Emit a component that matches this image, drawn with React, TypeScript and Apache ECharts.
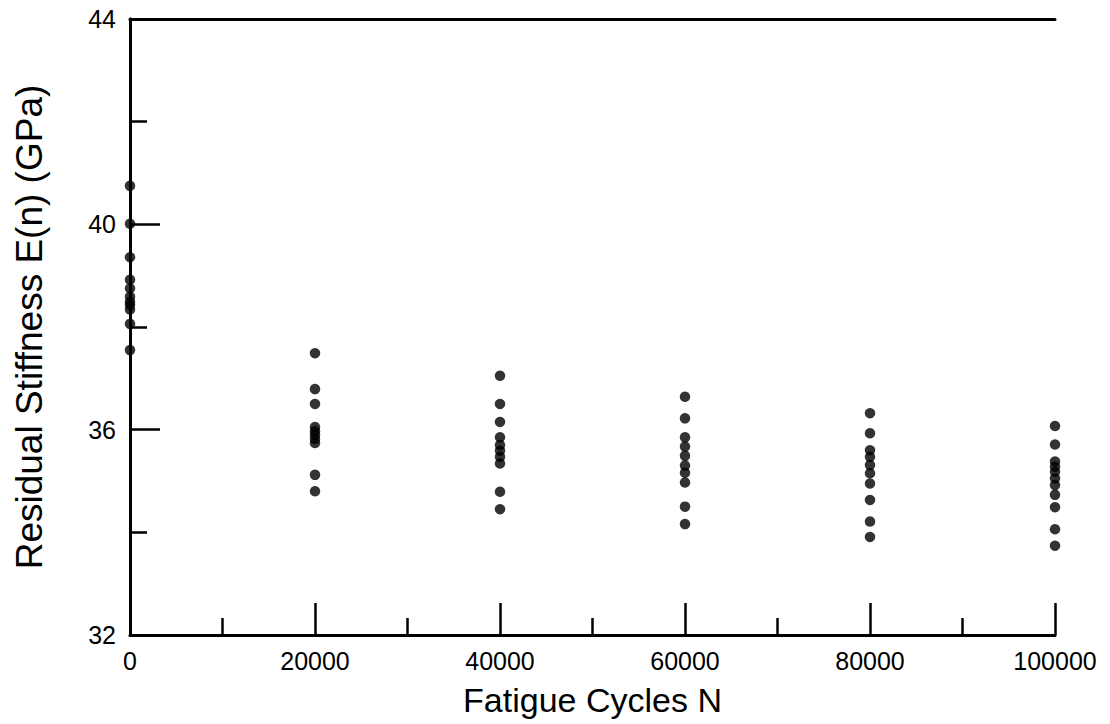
import React, { useEffect, useRef } from "react";
import * as echarts from "echarts";

const cycles = [0, 20000, 40000, 60000, 80000, 100000];
const stiff0 = [40.75, 40.01, 39.36, 38.92, 38.75, 38.59, 38.49, 38.43, 38.34, 38.06, 37.55];
const stiff20k = [37.49, 36.79, 36.5, 36.05, 35.97, 35.9, 35.82, 35.74, 35.12, 34.8];
const stiff40k = [37.05, 36.5, 36.15, 35.85, 35.7, 35.59, 35.47, 35.34, 34.79, 34.45];
const stiff60k = [36.64, 36.22, 35.85, 35.67, 35.49, 35.3, 35.16, 34.97, 34.5, 34.16];
const stiff80k = [36.32, 35.93, 35.6, 35.47, 35.31, 35.15, 34.95, 34.63, 34.21, 33.91];
const stiff100k = [36.07, 35.71, 35.38, 35.28, 35.18, 35.05, 34.92, 34.73, 34.49, 34.06, 33.74];
const groups = [stiff0, stiff20k, stiff40k, stiff60k, stiff80k, stiff100k];

const FONT = "'Liberation Sans', Arial, sans-serif";

export default function App() {
  const ref = useRef<HTMLDivElement>(null);
  useEffect(() => {
    if (!ref.current) return;
    const chart = echarts.init(ref.current, null, { renderer: "svg" });
    const data: number[][] = [];
    groups.forEach((g, i) => g.forEach((v) => data.push([cycles[i], v])));
    const lineStyle = { color: "#000", width: 3 };
    chart.setOption({
      animation: false,
      backgroundColor: "#fff",
      grid: { left: 130, right: 55, top: 19, bottom: 89 },
      xAxis: [
        {
          type: "value",
          min: 0,
          max: 100000,
          interval: 20000,
          axisLine: { show: true, lineStyle },
          axisTick: { show: true, inside: true, length: 32, lineStyle: { color: "#000", width: 2.5 } },
          minorTick: { show: true, splitNumber: 2, length: 17, lineStyle: { color: "#000", width: 2.5 } },
          splitLine: { show: false },
          axisLabel: {
            color: "#000",
            fontSize: 25,
            fontFamily: FONT,
            margin: 13,
            formatter: (v: number) => String(v),
          },
          name: "Fatigue Cycles N",
          nameLocation: "middle",
          nameGap: 48,
          nameTextStyle: { color: "#000", fontSize: 34, fontFamily: FONT },
        },
        {
          type: "value",
          position: "top",
          min: 0,
          max: 100000,
          axisLine: { show: true, lineStyle },
          axisTick: { show: false },
          axisLabel: { show: false },
          splitLine: { show: false },
        },
      ],
      yAxis: [
        {
          type: "value",
          min: 32,
          max: 44,
          interval: 4,
          axisLine: { show: true, lineStyle },
          axisTick: { show: true, inside: true, length: 30, lineStyle: { color: "#000", width: 2.5 } },
          minorTick: { show: true, splitNumber: 2, length: 17, lineStyle: { color: "#000", width: 2.5 } },
          splitLine: { show: false },
          axisLabel: { color: "#000", fontSize: 25, fontFamily: FONT, margin: 14 },
          name: "Residual Stiffness E(n) (GPa)",
          nameLocation: "middle",
          nameGap: 82,
          nameTextStyle: { color: "#000", fontSize: 37, fontFamily: FONT },
        },
        {
          type: "value",
          position: "right",
          min: 32,
          max: 44,
          axisLine: { show: true, lineStyle },
          axisTick: { show: false },
          axisLabel: { show: false },
          splitLine: { show: false },
        },
      ],
      series: [
        {
          type: "scatter",
          data,
          symbol: "circle",
          symbolSize: 10.5,
          itemStyle: { color: "#000" },
          z: 5,
        },
      ],
    });
    return () => chart.dispose();
  }, []);
  return <div ref={ref} style={{ width: 1110, height: 724, position: "absolute", left: 0, top: 0 }} />;
}
